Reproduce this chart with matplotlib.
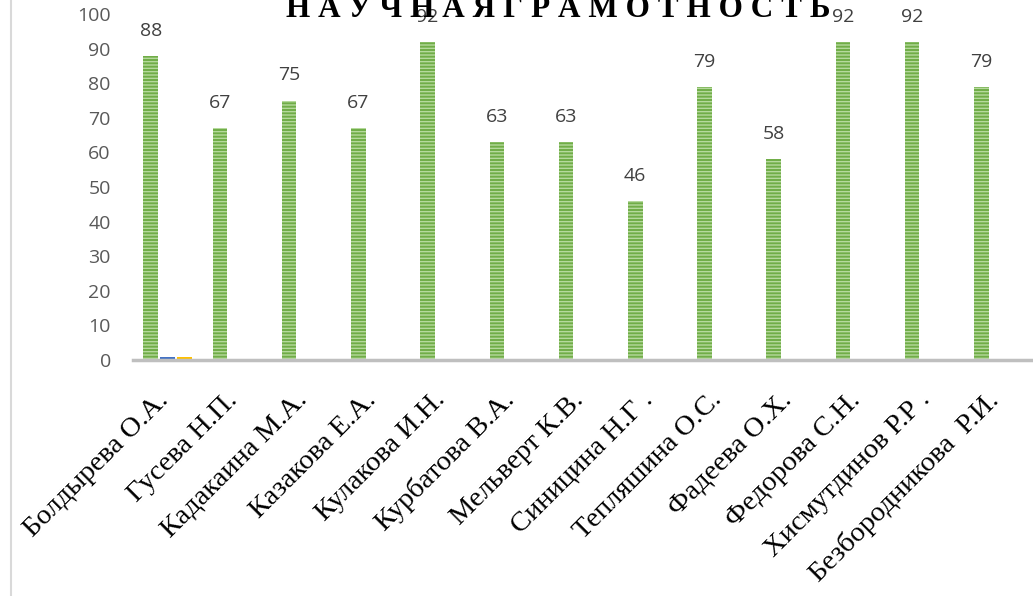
import matplotlib
matplotlib.use("Agg")
import matplotlib.pyplot as plt
import numpy as np
from matplotlib.transforms import ScaledTranslation
from matplotlib.lines import Line2D

categories = ["Болдырева О.А.", "Гусева Н.П.", "Кадакаина М.А.", "Казакова Е.А.",
              "Кулакова И.Н.", "Курбатова В.А.", "Мельверт К.В.", "Синицина Н.Г .",
              "Тепляшина О.С.", "Фадеева О.Х.", "Федорова С.Н.", "Хисмутдинов Р.Р .",
              "Безбородникова  Р.И."]
scores = [88, 67, 75, 67, 92, 63, 63, 46, 79, 58, 92, 92, 79]
series2 = [1, 0, 0, 0, 0, 0, 0, 0, 0, 0, 0, 0, 0]
series3 = [1, 0, 0, 0, 0, 0, 0, 0, 0, 0, 0, 0, 0]
yticks = [0, 10, 20, 30, 40, 50, 60, 70, 80, 90, 100]
title = "Н А У Ч Н А Я Г Р А М О Т Н О С Т Ь"

plt.rcParams['hatch.linewidth'] = 1.0
fig = plt.figure(figsize=(10.33, 5.96), dpi=100)
ax = fig.add_axes([133/1033, 1-360/596, 1-133/1033, (360-14)/596])

x = np.arange(len(categories))
w = 0.21
off = 0.245
ax.bar(x - off, scores, width=w, color="#70AD47", edgecolor="#B5D99C",
       hatch="-----", linewidth=0, zorder=2)
ax.bar(x, series2, width=w, color="#4472C4", linewidth=0, zorder=2)
ax.bar(x + off, series3, width=w, color="#FFC000", linewidth=0, zorder=2)

for xi, v in zip(x, scores):
    ax.annotate(str(v), (xi - off, v), xytext=(0, 18), textcoords="offset points",
                ha="center", va="center", fontsize=14, color="#404040",
                family="Open Sans", zorder=1)

ax.set_xlim(-0.5, len(categories) - 0.5)
ax.set_ylim(0, 100)
ax.set_yticks(yticks)
ax.set_yticklabels([str(t) for t in yticks], fontsize=14, color="#595959", family="Open Sans")
ax.tick_params(axis="y", length=0, pad=16)
ax.set_xticks(x)
ax.set_xticklabels(categories, rotation=45, ha="right", va="center",
                   rotation_mode="anchor", fontsize=20.5, family="Liberation Serif",
                   color="black")
ax.tick_params(axis="x", length=0, pad=26)
for lab in ax.get_xticklabels():
    lab.set_transform(lab.get_transform() + ScaledTranslation(-0.03, 0, fig.dpi_scale_trans))

for s in ["top", "right", "left"]:
    ax.spines[s].set_visible(False)
ax.spines["bottom"].set_color("#BFBFBF")
ax.spines["bottom"].set_linewidth(2.5)

fig.text(558/1033, 1-17/596, title, ha="center", va="baseline", fontsize=22.5,
         fontweight="bold", family="Liberation Serif", color="black", zorder=5)

fig.add_artist(Line2D([11/1033, 11/1033], [0, 1], transform=fig.transFigure,
                      color="#D9D9D9", linewidth=1.5))

fig.savefig("out.png", dpi=100)
